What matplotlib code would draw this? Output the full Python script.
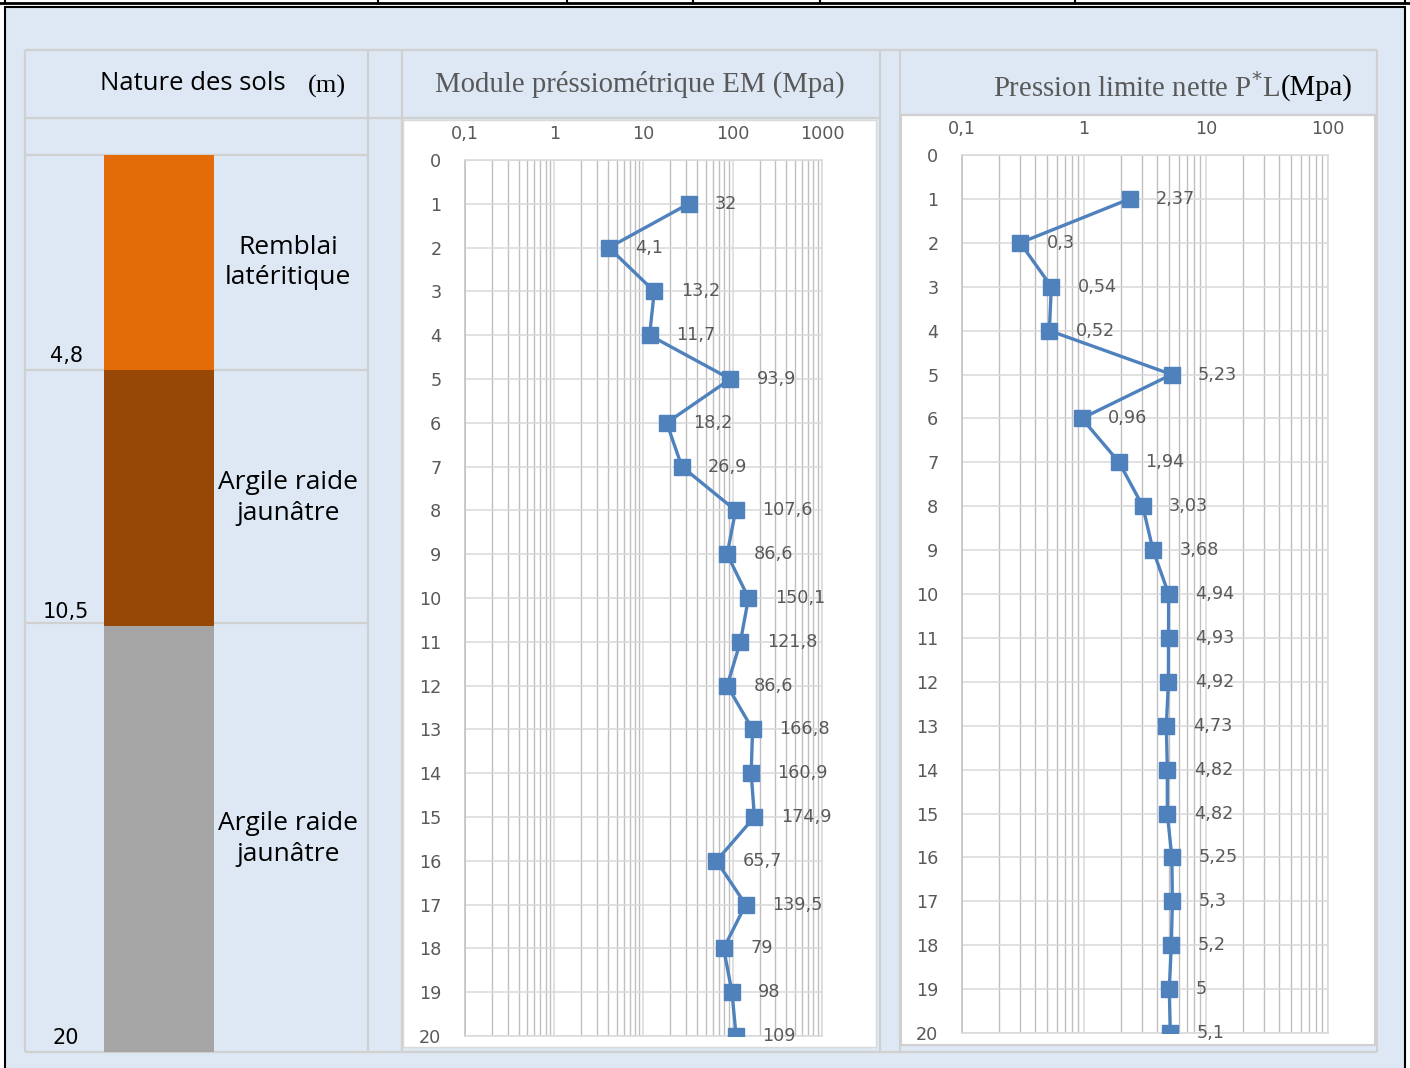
import numpy as np
import matplotlib.pyplot as plt
from matplotlib.patches import Rectangle
from matplotlib.ticker import FixedLocator, LogLocator, MultipleLocator, NullFormatter

W, H = 1410, 1068

# depth (m) of each pressuremeter test
depth = list(range(1, 21))
# pressuremeter modulus EM (MPa)
em = [32, 4.1, 13.2, 11.7, 93.9, 18.2, 26.9, 107.6, 86.6, 150.1,
      121.8, 86.6, 166.8, 160.9, 174.9, 65.7, 139.5, 79, 98, 109]
# net limit pressure P*L (MPa)
pl = [2.37, 0.3, 0.54, 0.52, 5.23, 0.96, 1.94, 3.03, 3.68, 4.94,
      4.93, 4.92, 4.73, 4.82, 4.82, 5.25, 5.3, 5.2, 5, 5.1]

# soil layers
layer_top = [0, 4.8, 10.5]
layer_bottom = [4.8, 10.5, 20]
layer_names = ["Remblai\nlatéritique", "Argile raide\njaunâtre", "Argile raide\njaunâtre"]
layer_colors = ["#e36c09", "#984806", "#a5a5a5"]

em_ticks = [0.1, 1, 10, 100, 1000]
em_ticklabels = ["0,1", "1", "10", "100", "1000"]
pl_ticks = [0.1, 1, 10, 100]
pl_ticklabels = ["0,1", "1", "10", "100"]

SANS = ["Open Sans", "DejaVu Sans"]
NUM = ["DejaVu Sans"]
SERIF = ["Liberation Serif", "DejaVu Serif"]
TXT = "#595959"
BLUE = "#4f81bd"
GRID = "#d9d9d9"
GRID_MINOR = "#bfbfbf"
LINE = "#d0d0d0"


def fmt(v):
    return ("%g" % v).replace(".", ",")


fig = plt.figure(figsize=(W / 100, H / 100), dpi=100)
fig.patch.set_facecolor("white")


def px_axes(x0, y0, x1, y1):
    return fig.add_axes([x0 / W, 1 - y1 / H, (x1 - x0) / W, (y1 - y0) / H])


# background / table frame in pixel coords
bg = px_axes(0, 0, W, H)
bg.set_xlim(0, W)
bg.set_ylim(H, 0)
bg.axis("off")
bg.add_patch(Rectangle((5, 7), 1400, 1070, fc="#dde8f4", ec="black", lw=1.5))
bg.plot([0, W], [3, 3], color="black", lw=2)
for x in [5, 378, 567, 693, 820, 1075, 1405]:
    bg.plot([x, x], [0, 3], color="black", lw=1.5)


def hline(y, x0, x1):
    bg.plot([x0, x1], [y, y], color=LINE, lw=1.6, solid_capstyle="butt")


def vline(x, y0, y1):
    bg.plot([x, x], [y0, y1], color=LINE, lw=1.6, solid_capstyle="butt")


hline(50, 25, 1377)
hline(118, 25, 880)
hline(115, 900, 1377)
for y in [155, 370, 623]:
    hline(y, 25, 368)
hline(1052, 25, 1377)
for x in [25, 368, 402, 880, 900, 1377]:
    vline(x, 50, 1052)

bg.add_patch(Rectangle((403, 120), 473, 927, fc="white", ec=GRID, lw=1))
bg.add_patch(Rectangle((901, 115), 474, 930, fc="white", ec=LINE, lw=1.5))

# headers
bg.text(100, 84, "Nature des sols", family=SANS, fontsize=18.5, color="black",
        ha="left", va="center")
bg.text(308, 86, "(m)", family=SERIF, fontsize=19, color="black",
        ha="left", va="center")
bg.text(640, 84, "Module préssiométrique EM (Mpa)", family=SERIF, fontsize=20.7,
        color=TXT, ha="center", va="center")
t = bg.text(993, 88, "Pression limite nette P$^{*}$L", family=SERIF, fontsize=20.7,
            color=TXT, ha="left", va="center")
bg.annotate("(Mpa)", xy=(1, 0.5), xycoords=t, xytext=(1, 0), textcoords="offset points",
            family=SERIF, fontsize=20.7, color="black", ha="left", va="center")

# soil column
soil = px_axes(25, 155, 368, 1052)
soil.set_xlim(0, 1)
soil.set_ylim(20, 0)
soil.axis("off")
thick = np.array(layer_bottom) - np.array(layer_top)
soil.bar(0.39, thick, bottom=layer_top, width=0.32, color=layer_colors)
for top, bot, name in zip(layer_top, layer_bottom, layer_names):
    soil.text(0.767, (top + bot) / 2, name, family=SANS, fontsize=19, ha="center",
              va="center", linespacing=1.3)
    soil.annotate(fmt(bot), (0.12, bot), xytext=(0, 3), textcoords="offset points",
                  family=NUM, fontsize=15, ha="center", va="bottom")


def log_panel(box, values, ticks, ticklabels, xmax):
    ax = px_axes(*box)
    ax.set_xscale("log")
    ax.set_xlim(0.1, xmax)
    ax.set_ylim(20, 0)
    ax.xaxis.set_major_locator(FixedLocator(ticks))
    ax.xaxis.set_ticklabels(ticklabels)
    ax.xaxis.set_minor_locator(LogLocator(base=10, subs=np.arange(2, 10)))
    ax.xaxis.set_minor_formatter(NullFormatter())
    ax.yaxis.set_major_locator(MultipleLocator(1))
    ax.xaxis.tick_top()
    ax.tick_params(which="both", length=0, labelcolor=TXT, labelsize=12.7)
    ax.tick_params(axis="x", pad=12)
    ax.tick_params(axis="y", pad=17)
    for lab in ax.get_xticklabels() + ax.get_yticklabels():
        lab.set_family(NUM)
    ax.grid(which="minor", axis="x", color=GRID_MINOR, lw=1.0)
    ax.grid(which="major", axis="x", color=GRID, lw=1.1)
    ax.grid(which="major", axis="y", color=GRID, lw=1.1)
    for s in ax.spines.values():
        s.set_color(GRID)
        s.set_linewidth(1.1)
    ax.spines["left"].set_color(GRID_MINOR)
    ax.set_axisbelow(True)
    ax.plot(values, depth, color=BLUE, lw=2.4, marker="s", ms=12, zorder=3)
    for v, d in zip(values, depth):
        ax.annotate(fmt(v), (v, d), xytext=(19, 0), textcoords="offset points",
                    family=NUM, fontsize=12.7, color=TXT, ha="left", va="center")
    return ax


log_panel((465, 160, 822, 1036), em, em_ticks, em_ticklabels, 1000)
log_panel((962, 155, 1328, 1033), pl, pl_ticks, pl_ticklabels, 100)

fig.savefig("out.png", dpi=100)
